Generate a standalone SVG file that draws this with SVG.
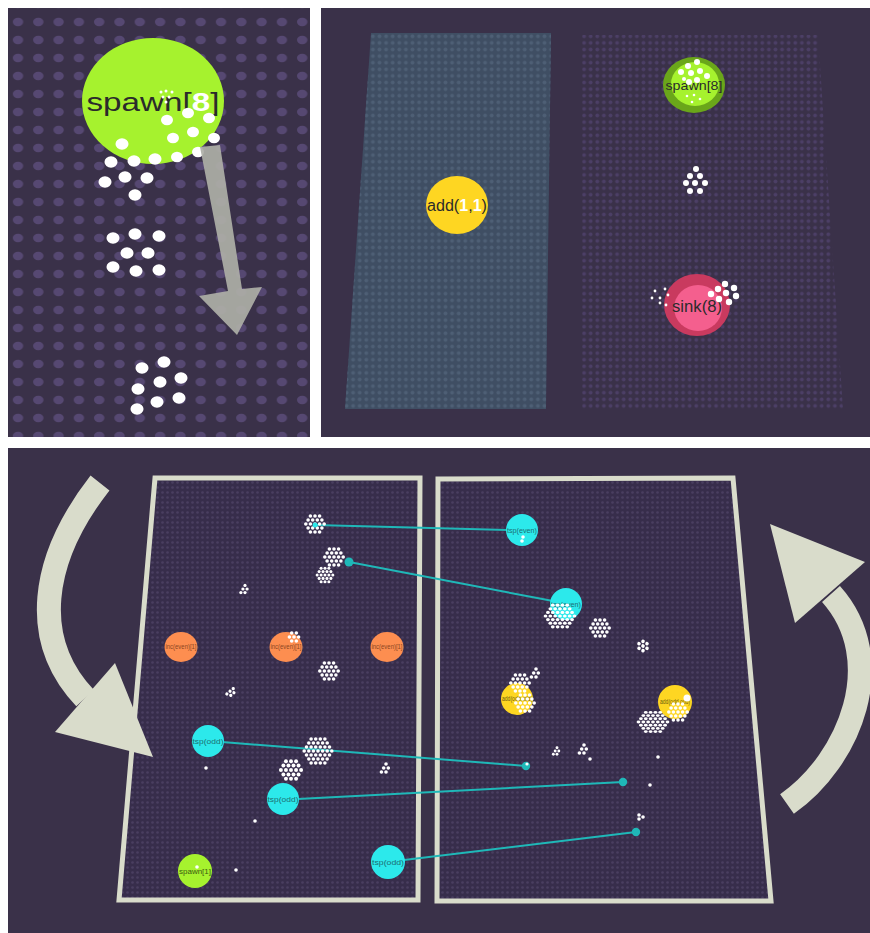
<svg xmlns="http://www.w3.org/2000/svg" xmlns:xlink="http://www.w3.org/1999/xlink" width="870" height="933" viewBox="0 0 870 933">
<style>
.bg{fill:#3a3149}
.w{fill:#ffffff}
.lbl{font-family:"Liberation Sans",Arial,sans-serif;fill:#2b2b2b;text-anchor:middle}
.sm{font-family:"Liberation Sans",Arial,sans-serif;text-anchor:middle;font-size:8px}
.conn{stroke:#1fb8b8;stroke-width:2;fill:none}
.cdot{fill:#1fb8b8}
.frame{fill:url(#pFrame);stroke:#d9dccb;stroke-width:5;stroke-linejoin:miter}
.bigarrow{fill:none;stroke:#d9dccb;stroke-width:24}
.head{fill:#d9dccb}
.tsp{fill:#2ce9eb}
.inc{fill:#fd8e50}
.add{fill:#fed622}
.spn{fill:#a6f22e}
</style>
<defs>
<pattern id="pA" patternUnits="userSpaceOnUse" x="8" y="13" width="20.3" height="18"><ellipse cx="10" cy="9" rx="5.2" ry="4.2" fill="#564872"/></pattern>
<pattern id="pBlue" patternUnits="userSpaceOnUse" x="0" y="0" width="6.6" height="6.6"><circle cx="3.3" cy="3.3" r="1.9" fill="#4e5f75"/></pattern>
<pattern id="pPur" patternUnits="userSpaceOnUse" x="0" y="0" width="6.6" height="6.6"><circle cx="3.3" cy="3.3" r="1.9" fill="#4c3f66"/></pattern>
<pattern id="pFrame" patternUnits="userSpaceOnUse" x="0" y="0" width="5" height="5"><rect width="5" height="5" fill="#372d4b"/><circle cx="2.5" cy="2.5" r="1.3" fill="#4a3e60"/></pattern>
<g id="h7"><circle class="w" cx="0" cy="0" r="1.8"/><circle class="w" cx="-4.6" cy="0" r="1.8"/><circle class="w" cx="4.6" cy="0" r="1.8"/><circle class="w" cx="-2.3" cy="-4" r="1.8"/><circle class="w" cx="2.3" cy="-4" r="1.8"/><circle class="w" cx="-2.3" cy="4" r="1.8"/><circle class="w" cx="2.3" cy="4" r="1.8"/></g>
<g id="h5"><circle class="w" cx="0" cy="-4" r="1.8"/><circle class="w" cx="-2.3" cy="0" r="1.8"/><circle class="w" cx="2.3" cy="0" r="1.8"/><circle class="w" cx="-4.6" cy="4" r="1.8"/><circle class="w" cx="0" cy="4" r="1.8"/></g>
<g id="h19">
<use xlink:href="#h7"/>
<circle class="w" cx="-4.6" cy="-8" r="1.8"/><circle class="w" cx="0" cy="-8" r="1.8"/><circle class="w" cx="4.6" cy="-8" r="1.8"/>
<circle class="w" cx="-4.6" cy="8" r="1.8"/><circle class="w" cx="0" cy="8" r="1.8"/><circle class="w" cx="4.6" cy="8" r="1.8"/>
<circle class="w" cx="-6.9" cy="-4" r="1.8"/><circle class="w" cx="6.9" cy="-4" r="1.8"/><circle class="w" cx="-6.9" cy="4" r="1.8"/><circle class="w" cx="6.9" cy="4" r="1.8"/>
<circle class="w" cx="-9.2" cy="0" r="1.8"/><circle class="w" cx="9.2" cy="0" r="1.8"/>
</g>
<g id="h37">
<use xlink:href="#h19"/>
<circle class="w" cx="-6.9" cy="-12" r="1.8"/><circle class="w" cx="-2.3" cy="-12" r="1.8"/><circle class="w" cx="2.3" cy="-12" r="1.8"/><circle class="w" cx="6.9" cy="-12" r="1.8"/>
<circle class="w" cx="-6.9" cy="12" r="1.8"/><circle class="w" cx="-2.3" cy="12" r="1.8"/><circle class="w" cx="2.3" cy="12" r="1.8"/><circle class="w" cx="6.9" cy="12" r="1.8"/>
<circle class="w" cx="-9.2" cy="-8" r="1.8"/><circle class="w" cx="9.2" cy="-8" r="1.8"/><circle class="w" cx="-9.2" cy="8" r="1.8"/><circle class="w" cx="9.2" cy="8" r="1.8"/>
<circle class="w" cx="-11.5" cy="-4" r="1.8"/><circle class="w" cx="11.5" cy="-4" r="1.8"/><circle class="w" cx="-11.5" cy="4" r="1.8"/><circle class="w" cx="11.5" cy="4" r="1.8"/>
<circle class="w" cx="-13.8" cy="0" r="1.8"/><circle class="w" cx="13.8" cy="0" r="1.8"/>
</g>
</defs>

<rect width="870" height="933" fill="#ffffff"/>

<!-- Panel A -->
<g id="panelA">
<rect class="bg" x="8" y="8" width="302" height="429"/>
<rect x="8" y="8" width="302" height="429" fill="url(#pA)"/>
</g>
<g id="spawn8-big">
<ellipse cx="153" cy="101" rx="71" ry="63" fill="#a6f22e"/>
<text x="153" y="111" class="lbl" font-size="26" textLength="133" lengthAdjust="spacingAndGlyphs">spawn[<tspan fill="#ffffff" font-weight="bold">8</tspan>]</text>
</g>
<g id="particlesA">
<circle class="w" cx="161" cy="92" r="1.5"/><circle class="w" cx="166" cy="91" r="1.5"/><circle class="w" cx="172" cy="92" r="1.5"/><circle class="w" cx="163" cy="97" r="1.5"/><circle class="w" cx="169" cy="97" r="1.5"/><circle class="w" cx="166" cy="102" r="1.5"/>
<ellipse class="w" cx="167" cy="120" rx="6" ry="5.3"/><ellipse class="w" cx="188" cy="113" rx="6" ry="5.3"/><ellipse class="w" cx="209" cy="118" rx="6" ry="5.3"/><ellipse class="w" cx="173" cy="138" rx="6" ry="5.3"/><ellipse class="w" cx="193" cy="132" rx="6" ry="5.3"/><ellipse class="w" cx="214" cy="138" rx="6" ry="5.3"/><ellipse class="w" cx="177" cy="157" rx="6" ry="5.3"/><ellipse class="w" cx="198" cy="152" rx="6" ry="5.3"/>
<ellipse class="w" cx="122" cy="144" rx="6.5" ry="5.8"/><ellipse class="w" cx="111" cy="162" rx="6.5" ry="5.8"/><ellipse class="w" cx="134" cy="161" rx="6.5" ry="5.8"/><ellipse class="w" cx="155" cy="159" rx="6.5" ry="5.8"/><ellipse class="w" cx="105" cy="182" rx="6.5" ry="5.8"/><ellipse class="w" cx="125" cy="177" rx="6.5" ry="5.8"/><ellipse class="w" cx="147" cy="178" rx="6.5" ry="5.8"/><ellipse class="w" cx="135" cy="195" rx="6.5" ry="5.8"/>
<ellipse class="w" cx="113" cy="238" rx="6.5" ry="5.8"/><ellipse class="w" cx="135" cy="234" rx="6.5" ry="5.8"/><ellipse class="w" cx="159" cy="236" rx="6.5" ry="5.8"/><ellipse class="w" cx="127" cy="253" rx="6.5" ry="5.8"/><ellipse class="w" cx="148" cy="253" rx="6.5" ry="5.8"/><ellipse class="w" cx="113" cy="267" rx="6.5" ry="5.8"/><ellipse class="w" cx="136" cy="271" rx="6.5" ry="5.8"/><ellipse class="w" cx="159" cy="270" rx="6.5" ry="5.8"/>
<ellipse class="w" cx="142" cy="368" rx="6.5" ry="5.8"/><ellipse class="w" cx="164" cy="362" rx="6.5" ry="5.8"/><ellipse class="w" cx="181" cy="378" rx="6.5" ry="5.8"/><ellipse class="w" cx="160" cy="382" rx="6.5" ry="5.8"/><ellipse class="w" cx="138" cy="389" rx="6.5" ry="5.8"/><ellipse class="w" cx="157" cy="402" rx="6.5" ry="5.8"/><ellipse class="w" cx="179" cy="398" rx="6.5" ry="5.8"/><ellipse class="w" cx="137" cy="409" rx="6.5" ry="5.8"/>
</g>
<g id="arrowA">
<polygon points="200,147 220,145 242,289 262,287 237,335 199,296 228,291" fill="#aeafa7" fill-opacity="0.92"/>
</g>

<!-- Panel B -->
<g id="panelB">
<rect class="bg" x="321" y="8" width="549" height="429"/>
<polygon points="371,33 551,33 546,409 345,409" fill="#3f4e63"/>
<polygon points="371,33 551,33 546,409 345,409" fill="url(#pBlue)"/>
<polygon points="582,35 818,35 843,410 582,410" fill="url(#pPur)"/>
</g>
<g id="add11">
<ellipse cx="457" cy="205" rx="31" ry="29" class="add"/>
<text x="457" y="211" class="lbl" font-size="16" textLength="60" lengthAdjust="spacingAndGlyphs">add(<tspan fill="#ffffff" font-weight="bold">1</tspan>,<tspan fill="#ffffff" font-weight="bold">1</tspan>)</text>
</g>
<g id="spawn8">
<ellipse cx="694" cy="85" rx="31" ry="28" fill="#6aa61a"/>
<ellipse cx="695" cy="84" rx="24" ry="22" fill="#a6f22e"/>
<text x="694" y="90" class="lbl" font-size="13" textLength="57" lengthAdjust="spacingAndGlyphs">spawn[8]</text>
<circle class="w" cx="697" cy="62" r="3"/><circle class="w" cx="688" cy="66" r="3"/><circle class="w" cx="681" cy="72" r="3"/><circle class="w" cx="691" cy="73" r="3"/><circle class="w" cx="700" cy="71" r="3"/><circle class="w" cx="707" cy="76" r="3"/><circle class="w" cx="689" cy="82" r="3"/><circle class="w" cx="697" cy="80" r="3"/><circle class="w" cx="684" cy="79" r="2"/>
<circle class="w" cx="687" cy="96" r="1.3"/><circle class="w" cx="694" cy="95" r="1.3"/><circle class="w" cx="700" cy="99" r="1.3"/><circle class="w" cx="692" cy="102" r="1.3"/>
</g>
<g id="sink8">
<ellipse cx="697" cy="305" rx="33" ry="31" fill="#c93a5f"/>
<ellipse cx="698" cy="308" rx="24" ry="23" fill="#f45f8e"/>
<text x="697" y="312" class="lbl" font-size="16" textLength="50" lengthAdjust="spacingAndGlyphs">sink(8)</text>
<circle class="w" cx="725" cy="284" r="3.2"/><circle class="w" cx="718" cy="289" r="3.2"/><circle class="w" cx="734" cy="288" r="3.2"/><circle class="w" cx="711" cy="294" r="3.2"/><circle class="w" cx="726" cy="293" r="3.2"/><circle class="w" cx="736" cy="296" r="3.2"/><circle class="w" cx="719" cy="299" r="3.2"/><circle class="w" cx="729" cy="302" r="3.2"/>
<circle class="w" cx="655" cy="291" r="1.4"/><circle class="w" cx="665" cy="289" r="1.4"/><circle class="w" cx="652" cy="298" r="1.4"/><circle class="w" cx="660" cy="298" r="1.4"/><circle class="w" cx="668" cy="295" r="1.4"/><circle class="w" cx="666" cy="305" r="1.4"/><circle class="w" cx="660" cy="303" r="1.4"/>
</g>
<g id="clusterB">
<circle class="w" cx="696" cy="169" r="3"/><circle class="w" cx="690" cy="176" r="3"/><circle class="w" cx="700" cy="176" r="3"/><circle class="w" cx="686" cy="183" r="3"/><circle class="w" cx="695" cy="183" r="3"/><circle class="w" cx="705" cy="183" r="3"/><circle class="w" cx="690" cy="191" r="3"/><circle class="w" cx="700" cy="191" r="3"/>
</g>

<!-- Panel C -->
<g id="panelC">
<rect class="bg" x="8" y="448" width="862" height="485"/>
</g>
<g id="frameLeft"><polygon class="frame" points="155,478 420,478 418,900 119,900"/></g>
<g id="frameRight"><polygon class="frame" points="438,479 733,478 771,901 437,901"/></g>

<g id="bigArrows">
<path class="bigarrow" d="M 100 483 C 40 560 30 640 85 698"/>
<polygon class="head" points="55,732 115,663 153,757"/>
<path class="bigarrow" d="M 787 804 C 850 760 890 660 831 594"/>
<polygon class="head" points="770,524 865,562 795,623"/>
</g>

<g id="connectors">
<line class="conn" x1="315" y1="525" x2="507" y2="530"/>
<line class="conn" x1="349" y1="562" x2="553" y2="601"/>
<circle class="cdot" cx="349" cy="562" r="4.5"/>
<line class="conn" x1="222" y1="742" x2="526" y2="766"/>
<circle class="cdot" cx="526" cy="766" r="4.2"/>
<line class="conn" x1="298" y1="799" x2="623" y2="782"/>
<circle class="cdot" cx="623" cy="782" r="4.2"/>
<line class="conn" x1="404" y1="860" x2="636" y2="832"/>
<circle class="cdot" cx="636" cy="832" r="4.2"/>
</g>

<g id="tsp-even-1"><circle class="tsp" cx="522" cy="530" r="16"/><text class="sm" x="522" y="533" fill="#1d6f73" textLength="30" lengthAdjust="spacingAndGlyphs">tsp(even)</text></g>
<g id="tsp-even-2"><circle class="tsp" cx="566" cy="604" r="16"/><text class="sm" x="566" y="607" fill="#1d6f73" textLength="30" lengthAdjust="spacingAndGlyphs">tsp(even)</text></g>
<g id="inc-even-1"><ellipse class="inc" cx="181" cy="647" rx="16.5" ry="15"/><text class="sm" x="181" y="649" font-size="6.5" fill="#8a4522" textLength="31" lengthAdjust="spacingAndGlyphs">inc(even)[1]</text></g>
<g id="inc-even-2"><ellipse class="inc" cx="286" cy="647" rx="16.5" ry="15"/><text class="sm" x="286" y="649" font-size="6.5" fill="#8a4522" textLength="31" lengthAdjust="spacingAndGlyphs">inc(even)[1]</text></g>
<g id="inc-even-3"><ellipse class="inc" cx="387" cy="647" rx="16.5" ry="15"/><text class="sm" x="387" y="649" font-size="6.5" fill="#8a4522" textLength="31" lengthAdjust="spacingAndGlyphs">inc(even)[1]</text></g>
<g id="tsp-odd-1"><circle class="tsp" cx="208" cy="741" r="16"/><text class="sm" x="208" y="744" fill="#1d6f73" textLength="31" lengthAdjust="spacingAndGlyphs">tsp(odd)</text></g>
<g id="tsp-odd-2"><circle class="tsp" cx="283" cy="799" r="16"/><text class="sm" x="283" y="802" fill="#1d6f73" textLength="31" lengthAdjust="spacingAndGlyphs">tsp(odd)</text></g>
<g id="tsp-odd-3"><circle class="tsp" cx="388" cy="862" r="17"/><text class="sm" x="388" y="865" fill="#1d6f73" textLength="32" lengthAdjust="spacingAndGlyphs">tsp(odd)</text></g>
<g id="spawn1"><circle class="spn" cx="195" cy="871" r="17"/><text class="sm" x="195" y="874" fill="#3c5a12" textLength="32" lengthAdjust="spacingAndGlyphs">spawn[1]</text></g>
<g id="add-odd-1"><circle class="add" cx="517" cy="699" r="16"/><text class="sm" x="517" y="701" font-size="5.5" fill="#6b5a10" textLength="30" lengthAdjust="spacingAndGlyphs">add(odd,odd)</text></g>
<g id="add-odd-2"><circle class="add" cx="675" cy="702" r="17"/><text class="sm" x="675" y="704" font-size="5.5" fill="#6b5a10" textLength="30" lengthAdjust="spacingAndGlyphs">add(odd,odd)</text></g>

<g id="particlesC">
<use xlink:href="#h19" transform="translate(315,524)"/>
<circle cx="315" cy="525" r="2.5" fill="#2ce9eb"/>
<use xlink:href="#h19" transform="translate(334,557)"/>
<use xlink:href="#h19" transform="translate(325,575) scale(0.85)"/>
<use xlink:href="#h5" transform="translate(245,589) scale(0.9)"/>
<use xlink:href="#h7" transform="translate(294,637)"/>
<use xlink:href="#h19" transform="translate(329,671)"/>
<use xlink:href="#h5" transform="translate(232,692) rotate(20) scale(0.9)"/>
<use xlink:href="#h37" transform="translate(318,751)"/>
<use xlink:href="#h19" transform="translate(291,770) scale(1.1)"/>
<use xlink:href="#h5" transform="translate(386,768)"/>
<circle class="w" cx="206" cy="768" r="1.8"/><circle class="w" cx="255" cy="821" r="1.8"/><circle class="w" cx="236" cy="870" r="1.8"/><circle class="w" cx="197" cy="867" r="1.8"/>
<circle class="w" cx="523" cy="537" r="1.8"/><circle class="w" cx="522" cy="541" r="1.8"/>
<use xlink:href="#h37" transform="translate(560,616) scale(1.05,0.9)"/>
<use xlink:href="#h19" transform="translate(600,628)"/>
<use xlink:href="#h7" transform="translate(643,646) rotate(30)"/>
<use xlink:href="#h19" transform="translate(520,683)"/>
<use xlink:href="#h19" transform="translate(525,703)"/>
<use xlink:href="#h5" transform="translate(536,673)"/>
<use xlink:href="#h37" transform="translate(653,722) scale(1.05,0.8)"/>
<use xlink:href="#h19" transform="translate(678,712)"/>
<circle class="w" cx="687" cy="698" r="3.5"/>
<use xlink:href="#h5" transform="translate(557,751) scale(0.8)"/>
<use xlink:href="#h5" transform="translate(584,749)"/>
<circle class="w" cx="590" cy="759" r="1.8"/><circle class="w" cx="658" cy="757" r="1.8"/><circle class="w" cx="650" cy="785" r="1.8"/>
<circle class="w" cx="639" cy="815" r="1.8"/><circle class="w" cx="643" cy="817" r="1.8"/><circle class="w" cx="639" cy="819" r="1.8"/>
<circle class="w" cx="527" cy="764" r="1.6"/>
</g>
</svg>
